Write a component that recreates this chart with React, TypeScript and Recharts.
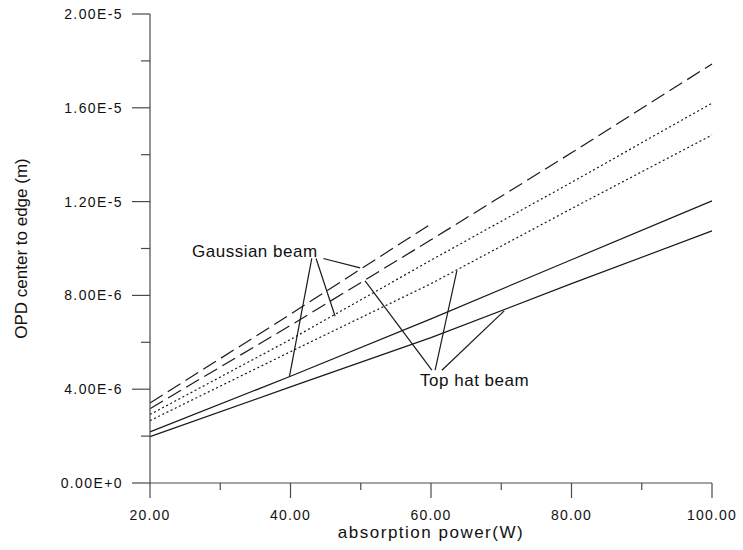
import React from 'react';
import { LineChart, Line, XAxis, YAxis, ReferenceLine, ReferenceDot } from 'recharts';

// absorption power (W) and OPD center to edge (m)
const absorptionPower = [20, 40, 60, 80, 100];
const gaussianDashed = [3.41e-6, 7.2e-6, 11.05e-6, null, null];
const topHatDashed = [3.17e-6, 6.72e-6, 10.37e-6, 14.08e-6, 17.87e-6];
const gaussianDotted = [2.92e-6, 6.12e-6, 9.5e-6, 12.82e-6, 16.2e-6];
const topHatDotted = [2.66e-6, 5.6e-6, 8.5e-6, 11.7e-6, 14.84e-6];
const gaussianSolid = [2.18e-6, 4.55e-6, 7.0e-6, 9.52e-6, 12.03e-6];
const topHatSolid = [1.98e-6, 4.1e-6, 6.2e-6, 8.5e-6, 10.75e-6];

const xTicks = [20, 30, 40, 50, 60, 70, 80, 90, 100];
const xTickLabels = ['20.00', '', '40.00', '', '60.00', '', '80.00', '', '100.00'];
const yTicks = [0, 2e-6, 4e-6, 6e-6, 8e-6, 1e-5, 1.2e-5, 1.4e-5, 1.6e-5, 1.8e-5, 2e-5];
const yTickLabels = ['0.00E+0', '', '4.00E-6', '', '8.00E-6', '', '1.20E-5', '', '1.60E-5', '', '2.00E-5'];

// leader lines for the two callouts, [x1, y1, x2, y2] in data units
const gaussianLeaders = [
  [43.03, 9.575e-6, 39.84, 4.523e-6],
  [43.64, 9.575e-6, 46.35, 7.113e-6],
  [44.68, 9.575e-6, 49.91, 9.174e-6],
];
const topHatLeaders = [
  [60.12, 4.809e-6, 50.62, 8.619e-6],
  [60.59, 4.809e-6, 63.68, 9.046e-6],
  [61.55, 4.809e-6, 70.42, 7.339e-6],
];
const callouts = [
  { text: 'Gaussian beam', x: 25.98, y: 9.63e-6 },
  { text: 'Top hat beam', x: 58.45, y: 4.139e-6 },
];

const FONT = '"Liberation Sans", Arial, sans-serif';
const AXIS = '#4a4a4a';
const INK = '#1a1a1a';

const chartData = absorptionPower.map((x, i) => ({
  x,
  gaussianDashed: gaussianDashed[i],
  topHatDashed: topHatDashed[i],
  gaussianDotted: gaussianDotted[i],
  topHatDotted: topHatDotted[i],
  gaussianSolid: gaussianSolid[i],
  topHatSolid: topHatSolid[i],
}));

const XTick = ({ x, y, index }: any) => {
  const label = xTickLabels[index];
  const major = label !== '';
  return (
    <g>
      <line x1={x} x2={x} y1={y} y2={y + (major ? 15 : 7)} stroke={AXIS} strokeWidth={1.2} />
      {major && (
        <text x={x} y={y + 37} textAnchor="middle" fontFamily={FONT} fontSize={14} letterSpacing={1.2} fill="#111">
          {label}
        </text>
      )}
    </g>
  );
};

const YTick = ({ x, y, index }: any) => {
  const label = yTickLabels[index];
  const major = label !== '';
  return (
    <g>
      <line x1={x - (major ? 18 : 9)} x2={x} y1={y} y2={y} stroke={AXIS} strokeWidth={1.2} />
      {major && (
        <text x={x - 27} y={y + 5} textAnchor="end" fontFamily={FONT} fontSize={14} letterSpacing={1.4} fill="#111">
          {label}
        </text>
      )}
    </g>
  );
};

const lineStyle = { type: 'linear' as const, stroke: INK, strokeWidth: 1.2, dot: false, activeDot: false, isAnimationActive: false };

export default function App() {
  return (
    <div style={{ position: 'absolute', left: 0, top: 0, width: 743, height: 550, background: '#fff' }}>
      <LineChart width={743} height={550} data={chartData} margin={{ top: 14, right: 31, left: 0, bottom: 0 }}>
        <XAxis
          dataKey="x"
          type="number"
          domain={[20, 100]}
          ticks={xTicks}
          interval={0}
          tickSize={0}
          tickMargin={0}
          tickLine={false}
          tick={<XTick />}
          height={67}
          stroke={AXIS}
          strokeWidth={1.2}
          label={{
            value: 'absorption power(W)',
            position: 'insideBottom',
            offset: 12,
            fontFamily: FONT,
            fontSize: 17,
            letterSpacing: 1.5,
            fill: '#111',
          }}
        />
        <YAxis
          type="number"
          domain={[0, 2e-5]}
          ticks={yTicks}
          interval={0}
          tickSize={0}
          tickMargin={0}
          tickLine={false}
          tick={<YTick />}
          width={150}
          stroke={AXIS}
          strokeWidth={1.2}
          label={{
            value: 'OPD center to edge (m)',
            angle: -90,
            position: 'insideLeft',
            offset: 21,
            fontFamily: FONT,
            fontSize: 17,
            fill: '#111',
            style: { textAnchor: 'middle' },
          }}
        />
        <Line dataKey="gaussianDashed" {...lineStyle} strokeDasharray="15 6" />
        <Line dataKey="topHatDashed" {...lineStyle} strokeDasharray="15 6" />
        <Line dataKey="gaussianDotted" {...lineStyle} strokeDasharray="2 2.6" />
        <Line dataKey="topHatDotted" {...lineStyle} strokeDasharray="2 2.6" />
        <Line dataKey="gaussianSolid" {...lineStyle} />
        <Line dataKey="topHatSolid" {...lineStyle} />
        {[...gaussianLeaders, ...topHatLeaders].map((s, i) => (
          <ReferenceLine
            key={'leader' + i}
            segment={[
              { x: s[0], y: s[1] },
              { x: s[2], y: s[3] },
            ]}
            stroke={INK}
            strokeWidth={1.2}
          />
        ))}
        {callouts.map((c) => (
          <ReferenceDot
            key={c.text}
            x={c.x}
            y={c.y}
            r={0}
            stroke="none"
            fill="none"
            label={(props: any) => (
              <text
                x={props.viewBox.x}
                y={props.viewBox.y}
                fontFamily={FONT}
                fontSize={17}
                letterSpacing={0.5}
                fill="#111"
              >
                {c.text}
              </text>
            )}
          />
        ))}
      </LineChart>
    </div>
  );
}
